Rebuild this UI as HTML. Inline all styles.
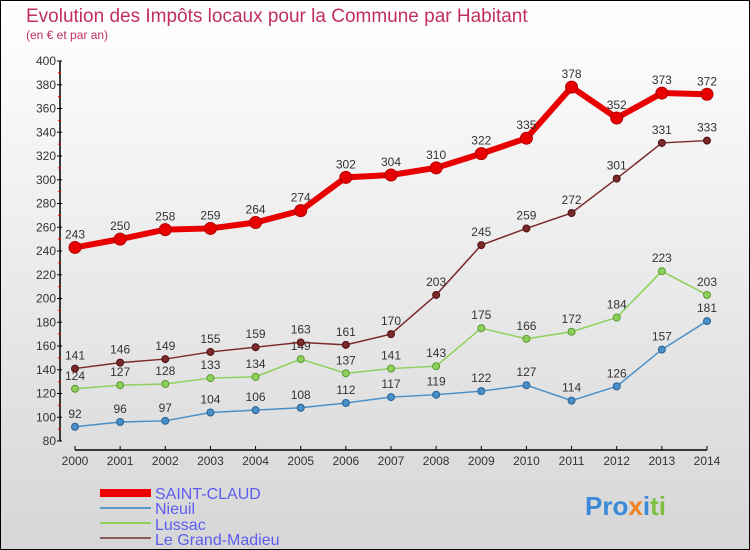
<!DOCTYPE html>
<html><head><meta charset="utf-8"><style>
body{margin:0}
#c{width:750px;height:550px;position:relative;box-sizing:border-box;border:1px solid #000;background:linear-gradient(#fff,#d6d6d6);font-family:"Liberation Sans",sans-serif;overflow:hidden}
</style></head><body>
<div id="c">
<svg id="s" width="750" height="550" style="position:absolute;left:-1px;top:-1px">
<text x="26" y="22" font-size="19" fill="#c0305a">Evolution des Impôts locaux pour la Commune par Habitant</text>
<text x="26" y="39" font-size="12" fill="#c0305a">(en € et par an)</text>
<g id="axes"></g><g id="series"></g>
<g>
<rect x="100" y="489" width="51" height="8" fill="#e00"/>
<text x="155" y="499" font-size="16" fill="#5c5cf0">SAINT-CLAUD</text>
<line x1="100" y1="508" x2="151" y2="508" stroke="#5a9ac8" stroke-width="2"/>
<text x="155" y="514" font-size="16" fill="#5c5cf0">Nieuil</text>
<line x1="100" y1="523" x2="151" y2="523" stroke="#8dd05a" stroke-width="2"/>
<text x="155" y="530" font-size="16" fill="#5c5cf0">Lussac</text>
<line x1="100" y1="538" x2="151" y2="538" stroke="#8a5a5a" stroke-width="2"/>
<text x="155" y="545" font-size="16" fill="#5c5cf0">Le Grand-Madieu</text>
</g>
<text x="585" y="515" font-size="26" font-weight="bold"><tspan fill="#3a8ad8">Pro</tspan><tspan fill="#f08020">x</tspan><tspan fill="#3a8ad8">i</tspan><tspan fill="#80c040">ti</tspan></text>
</svg>
</div>
<script>
const years=[2000,2001,2002,2003,2004,2005,2006,2007,2008,2009,2010,2011,2012,2013,2014];
const saintClaud=[243,250,258,259,264,274,302,304,310,322,335,378,352,373,372];
const nieuil=[92,96,97,104,106,108,112,117,119,122,127,114,126,157,181];
const lussac=[124,127,128,133,134,149,137,141,143,175,166,172,184,223,203];
const grandMadieu=[141,146,149,155,159,163,161,170,203,245,259,272,301,331,333];
const yTicks=[80,100,120,140,160,180,200,220,240,260,280,300,320,340,360,380,400];
const NS="http://www.w3.org/2000/svg";
const X=y=>75+(y-2000)*(707-75)/14;
const Y=v=>441-(v-80)*(380/320);
function mk(t,a,p){const e=document.createElementNS(NS,t);for(const k in a)e.setAttribute(k,a[k]);p.appendChild(e);return e;}
const ax=document.getElementById('axes');
const yl=mk('line',{x1:60,y1:61,x2:60,y2:441,stroke:'#000','stroke-width':1.5},ax);


const xl=mk('line',{x1:75,y1:450,x2:707,y2:450,stroke:'#000','stroke-width':1.5},ax);


yTicks.forEach((v,i)=>{
  mk('line',{x1:57,y1:Y(v),x2:62,y2:Y(v),stroke:'#000'},ax);
  if(i<yTicks.length-1)mk('line',{x1:58,y1:Y(v+10),x2:61,y2:Y(v+10),stroke:'#e00'},ax);
  const t=mk('text',{x:56,y:Y(v)+4,'font-size':12,fill:'#333','text-anchor':'end'},ax);t.textContent=v;
  
  
});
years.forEach(y=>{
  mk('line',{x1:X(y),y1:446,x2:X(y),y2:450,stroke:'#000'},ax);
  const t=mk('text',{x:X(y),y:465,'font-size':12,fill:'#333','text-anchor':'middle'},ax);t.textContent=y;
  
  
});
const sg=document.getElementById('series');
function series(vals,color,dark,w,r,name){
  const g=mk('g',{},sg);
  
  
  mk('polyline',{points:vals.map((v,i)=>X(years[i])+','+Y(v)).join(' '),fill:'none',stroke:color,'stroke-width':w},g);
  vals.forEach((v,i)=>{
    const c=mk('circle',{cx:X(years[i]),cy:Y(v),r:r,fill:color,stroke:dark,'stroke-width':1},g);
    
    
    const t=mk('text',{x:X(years[i]),y:Y(v)-9,'font-size':12,fill:'#333','text-anchor':'middle'},g);t.textContent=v;
    
    
  });
}
series(nieuil,'#4a90c8','#2a6090',1.5,3.5,'nieuil');
series(lussac,'#8dd05a','#5a9a30',1.5,3.5,'lussac');
series(grandMadieu,'#7a2a2a','#501010',1.5,3.5,'le-grand-madieu');
series(saintClaud,'#e80000','#b00000',6,6,'saint-claud');
</script>
</body></html>
